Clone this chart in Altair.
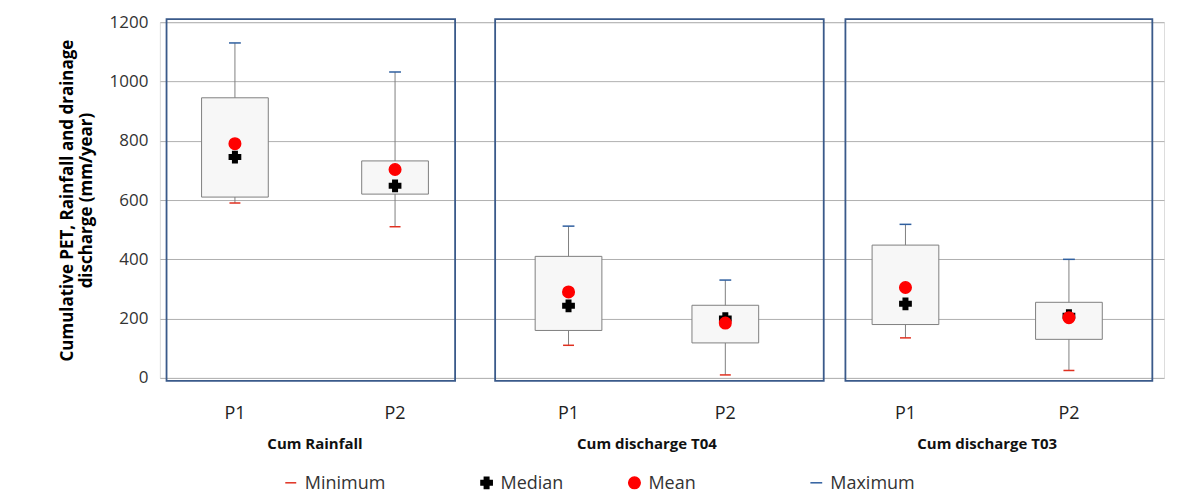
import altair as alt
import pandas as pd

groups = ["Cum Rainfall", "Cum Rainfall", "Cum discharge T04", "Cum discharge T04", "Cum discharge T03", "Cum discharge T03"]
periods = ["P1", "P2", "P1", "P2", "P1", "P2"]
xpos = [1.0, 1.96, 3.0, 3.94, 5.02, 6.0]
mins = [590, 510, 110, 10, 135, 25]
q1s = [610, 620, 160, 118, 180, 130]
medians = [745, 648, 243, 200, 250, 210]
means = [790, 703, 290, 185, 305, 203]
q3s = [945, 732, 410, 245, 448, 255]
maxs = [1130, 1032, 512, 330, 518, 400]

frame_names = ["Cum Rainfall", "Cum discharge T04", "Cum discharge T03"]
frame_x1 = [0.59, 2.56, 4.66]
frame_x2 = [2.32, 4.53, 6.50]
frame_mid = [1.48, 3.47, 5.51]

order = ["Minimum", "Median", "Mean", "Maximum"]
legend_x = [131, 327, 475, 657]

df = pd.DataFrame(dict(x=xpos, g=groups, p=periods, mn=mins, q1=q1s, med=medians,
                       mean=means, q3=q3s, mx=maxs))
df["xl"] = df["x"] - 0.2
df["xr"] = df["x"] + 0.2
fr = pd.DataFrame(dict(name=frame_names, x1=frame_x1, x2=frame_x2, mid=frame_mid))

X = alt.Scale(domain=[0.55, 6.57], nice=False, zero=False)
Y = alt.Scale(domain=[0, 1200], nice=False)
xax = alt.X("x:Q", scale=X, axis=None)

base = alt.Chart(df)

whisk = base.mark_rule(color="#808080", strokeWidth=1).encode(
    x=xax,
    y=alt.Y("mn:Q", scale=Y, title=["Cumulative PET, Rainfall and drainage", "discharge (mm/year)"],
            axis=alt.Axis(values=[0, 200, 400, 600, 800, 1000, 1200], format="d", grid=True, gridColor="#b0b0b0",
                          domain=False, ticks=False, labelFontSize=17, titleFontSize=17,
                          titleFontWeight="bold", labelPadding=12, titlePadding=14, labelColor="#333")),
    y2="mx:Q")
box = base.mark_rect(fill="#f7f7f7", stroke="#808080", strokeWidth=1).encode(
    x=alt.X("xl:Q", scale=X, axis=None), x2="xr:Q", y=alt.Y("q1:Q", scale=Y), y2="q3:Q")

pts = pd.concat([
    pd.DataFrame(dict(x=xpos, v=mins, s="Minimum")),
    pd.DataFrame(dict(x=xpos, v=medians, s="Median")),
    pd.DataFrame(dict(x=xpos, v=means, s="Mean")),
    pd.DataFrame(dict(x=xpos, v=maxs, s="Maximum")),
])
cscale = alt.Scale(domain=order, range=["#e03020", "#000000", "#ff0000", "#2f5f9f"])
shscale = alt.Scale(domain=order, range=["stroke", "cross", "circle", "stroke"])
szscale = alt.Scale(domain=order, range=[120, 140, 100, 120])
markers = alt.Chart(pts).mark_point(filled=True, opacity=1, strokeWidth=1.5).encode(
    x=alt.X("x:Q", scale=X, axis=None),
    y=alt.Y("v:Q", scale=Y),
    shape=alt.Shape("s:N", scale=shscale, legend=None),
    color=alt.Color("s:N", scale=cscale, legend=None),
    stroke=alt.Stroke("s:N", scale=cscale, legend=None),
    size=alt.Size("s:N", scale=szscale, legend=None),
)

frames = alt.Chart(fr).mark_rect(fill=None, stroke="#3a5a8a", strokeWidth=1.8).encode(
    x=alt.X("x1:Q", scale=X, axis=None), x2="x2:Q",
    y=alt.value(-3), y2=alt.value(359))

plabels = base.mark_text(fontSize=18, color="#222").encode(
    x=alt.X("x:Q", scale=X, axis=None), y=alt.value(392), text="p:N")
glabels = alt.Chart(fr).mark_text(fontSize=15, fontWeight="bold", color="#111").encode(
    x=alt.X("mid:Q", scale=X, axis=None), y=alt.value(422), text="name:N")

lg = pd.DataFrame(dict(s=order, lx=legend_x))
lg["tx"] = lg["lx"] + 14
leg_sym = alt.Chart(lg).mark_point(filled=True, opacity=1, strokeWidth=1.5).encode(
    x=alt.X("lx:Q", scale=None, axis=None), y=alt.value(461),
    shape=alt.Shape("s:N", scale=shscale, legend=None),
    color=alt.Color("s:N", scale=cscale, legend=None),
    stroke=alt.Stroke("s:N", scale=cscale, legend=None),
    size=alt.Size("s:N", scale=szscale, legend=None))
leg_txt = alt.Chart(lg).mark_text(fontSize=18, align="left", color="#333").encode(
    x=alt.X("tx:Q", scale=None, axis=None), y=alt.value(462), text="s:N")

chart = alt.layer(whisk, box, markers, frames, plabels, glabels, leg_sym, leg_txt).resolve_scale(
    x="independent").properties(
    width=1005, height=356, padding={"left": 50, "top": 5, "right": 5, "bottom": 5}
).configure_view(stroke=None).configure(font="Open Sans")

chart.save("out.html", embed_options={"renderer": "svg", "actions": False})
